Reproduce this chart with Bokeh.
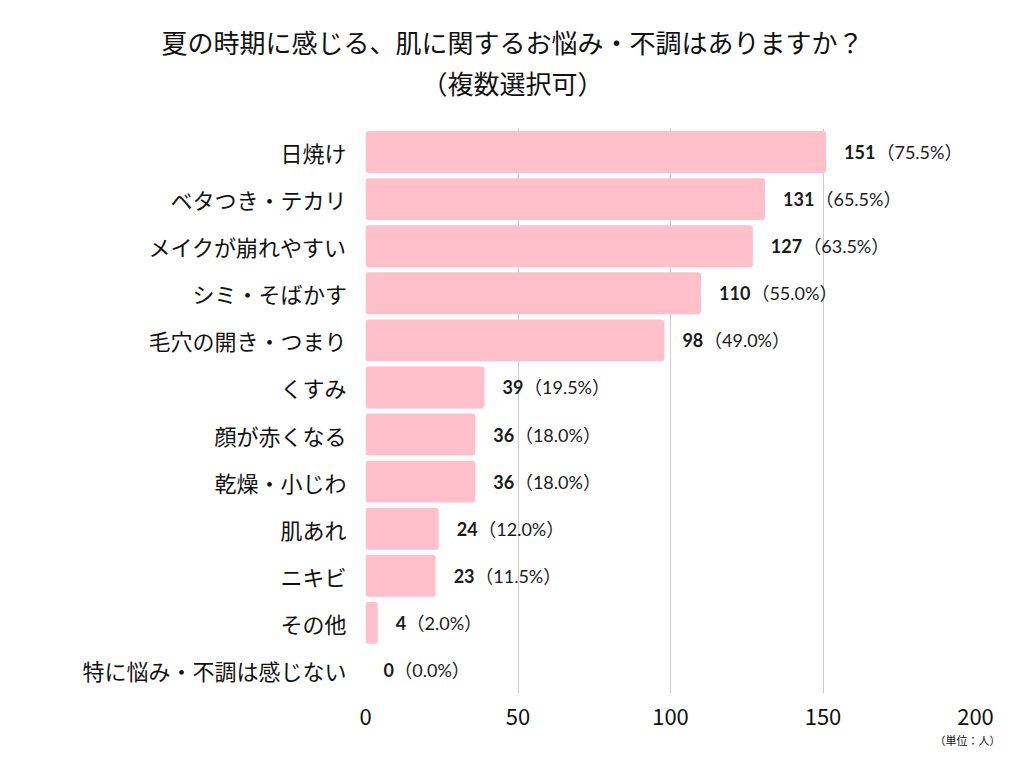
from bokeh.plotting import figure
from bokeh.models import ColumnDataSource, Range1d, FixedTicker, Title
from bokeh.core.properties import value
from bokeh.embed import file_html
from bokeh.resources import INLINE

categories = ["日焼け", "ベタつき・テカリ", "メイクが崩れやすい", "シミ・そばかす", "毛穴の開き・つまり",
              "くすみ", "顔が赤くなる", "乾燥・小じわ", "肌あれ", "ニキビ", "その他", "特に悩み・不調は感じない"]
counts = [151, 131, 127, 110, 98, 39, 36, 36, 24, 23, 4, 0]
percents = ["75.5", "65.5", "63.5", "55.0", "49.0", "19.5", "18.0", "18.0", "12.0", "11.5", "2.0", "0.0"]
x_ticks = [0, 50, 100, 150, 200]
title_lines = ["夏の時期に感じる、肌に関するお悩み・不調はありますか？", "（複数選択可）"]
unit_note = "（単位：人）"

JP = "Noto Sans CJK JP"
NUM = "Lato, Noto Sans CJK JP"
pos = list(range(len(categories)))
count_txt = [str(c) for c in counts]
pct_txt = [f"（{p}%）" for p in percents]
pct_off = [18 + 10.8 * len(s) for s in count_txt]
src = ColumnDataSource(dict(y=pos, x=counts, cnt=count_txt, pct=pct_txt, off=pct_off))

p = figure(width=1016, height=760, output_backend="svg", toolbar_location=None,
           x_range=Range1d(0, 200), y_range=Range1d(len(categories) - 0.5, -0.5),
           min_border_left=365, min_border_right=41, min_border_top=128, min_border_bottom=67)
p.outline_line_color = None
p.background_fill_color = "white"

p.hbar(y="y", right="x", left=0, height=0.89, source=src, fill_color="#FFC0CB",
       line_color=None, border_radius=3)
p.text(x="x", y="y", text="cnt", source=src, x_offset=18, text_align="left", text_baseline="middle",
       text_font=value(NUM), text_font_size="18px", text_font_style="bold", text_color="#1a1a1a")
p.text(x="x", y="y", text="pct", source=src, x_offset="off", text_align="left", text_baseline="middle",
       text_font=value(NUM), text_font_size="18px", text_color="#1a1a1a")

p.xgrid.ticker = FixedTicker(ticks=x_ticks)
p.xgrid.grid_line_color = "#cccccc"
p.xgrid.grid_line_width = 1
p.xgrid.level = "underlay"
p.ygrid.grid_line_color = None

p.xaxis.ticker = FixedTicker(ticks=x_ticks)
p.xaxis.axis_line_color = None
p.xaxis.major_tick_line_color = None
p.xaxis.minor_tick_line_color = None
p.xaxis.major_label_text_font = JP
p.xaxis.major_label_text_font_size = "22px"
p.xaxis.major_label_text_color = "#111111"
p.xaxis.major_label_standoff = 9

p.yaxis.ticker = FixedTicker(ticks=pos)
p.yaxis.major_label_overrides = {i: c for i, c in zip(pos, categories)}
p.yaxis.axis_line_color = None
p.yaxis.major_tick_line_color = None
p.yaxis.minor_tick_line_color = None
p.yaxis.major_label_text_font = JP
p.yaxis.major_label_text_font_size = "22px"
p.yaxis.major_label_text_color = "#111111"
p.yaxis.major_label_standoff = 13

p.add_layout(Title(text=unit_note, align="right", text_font=JP, text_font_size="11px",
                   text_font_style="normal", text_color="#111111", standoff=4, offset=-25), "below")
p.add_layout(Title(text=" ", text_font_size="22px", standoff=0), "above")
p.add_layout(Title(text=title_lines[1], align="left", text_font=JP, text_font_size="26px",
                   text_font_style="normal", text_color="#111111", standoff=2, offset=56), "above")
p.add_layout(Title(text=title_lines[0], align="left", text_font=JP, text_font_size="26px",
                   text_font_style="normal", text_color="#111111", standoff=2, offset=-204), "above")

open("out.html", "w").write(file_html(p, INLINE))
